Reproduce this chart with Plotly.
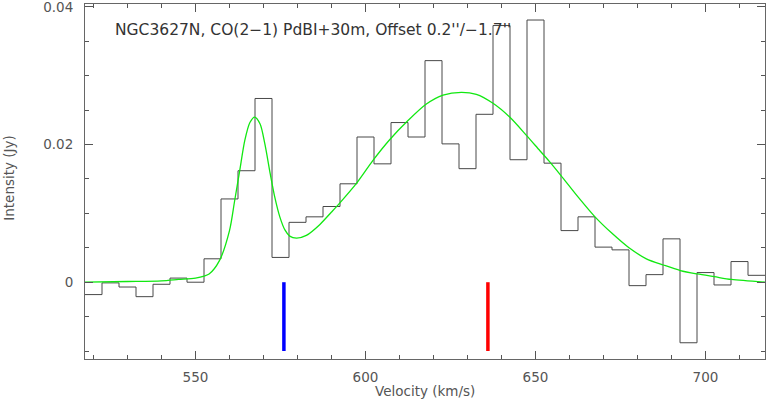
import plotly.graph_objects as go

# Spectrum (channel centres, km/s) and intensities (Jy)
velocity = [520, 525, 530, 535, 540, 545, 550, 555, 560, 565,
            570, 575, 580, 585, 590, 595, 600, 605, 610, 615,
            620, 625, 630, 635, 640, 645, 650, 655, 660, 665,
            670, 675, 680, 685, 690, 695, 700, 705, 710, 715]
intensity = [-0.0018, -0.0001, -0.0007, -0.0021, -0.0003, 0.0006, 0.0000, 0.0034, 0.0121, 0.0162,
             0.0267, 0.0036, 0.0087, 0.0095, 0.0110, 0.0143, 0.0211, 0.0172, 0.0232, 0.0211,
             0.0322, 0.0201, 0.0165, 0.0244, 0.0373, 0.0178, 0.0381, 0.0173, 0.0075, 0.0095,
             0.0051, 0.0047, -0.0005, 0.0011, 0.0063, -0.0088, 0.0014, -0.0004, 0.0030, 0.0010]
channel_width = 5

# Fitted profile
fit_velocity = [517.5, 530, 540, 545, 550, 554, 557, 560, 561.5, 563,
                564.5, 566, 567.4, 569, 570.4, 572, 573.3, 574.8, 576.3, 577.7,
                579.7, 582.6, 586.6, 590, 592.4, 597.4, 602.2, 607.1, 612.5, 617.9,
                622.8, 628.2, 632.6, 637.5, 642.4, 647.4, 651.3, 654, 657.5, 662.5,
                667.5, 672.5, 677.5, 682.6, 687.6, 692.6, 697.6, 702.6, 707.6, 717.5]
fit_intensity = [0.0000, 0.0001, 0.0002, 0.0004, 0.0006, 0.0012, 0.0031, 0.0075, 0.0118, 0.0162,
                 0.0206, 0.0232, 0.0240, 0.0230, 0.0201, 0.0157, 0.0124, 0.0095, 0.0076, 0.0067,
                 0.0064, 0.0068, 0.0084, 0.0102, 0.0115, 0.0144, 0.0177, 0.0207, 0.0235, 0.0259,
                 0.0272, 0.0276, 0.0273, 0.0260, 0.0240, 0.0213, 0.0191, 0.0176, 0.0155, 0.0124,
                 0.0095, 0.0071, 0.0050, 0.0034, 0.0025, 0.0017, 0.0012, 0.0008, 0.0004, 0.0000]

# Velocity markers
marker_velocity = [576, 636]
marker_colors = ["#0000ff", "#ff0000"]
marker_bottom = -0.01
marker_top = 0.0

title_text = "NGC3627N, CO(2\u22121) PdBI+30m, Offset 0.2''/\u22121.7''"
x_ticks = [550, 600, 650, 700]
y_ticks = [0, 0.02, 0.04]
y_ticktext = ["0", "0.02", "0.04"]

# histogram edges derived from channel centres
edges = [v - channel_width / 2 for v in velocity] + [velocity[-1] + channel_width / 2]
step_y = intensity + [intensity[-1]]

FONT = "DejaVu Sans"
fig = go.Figure()
fig.add_trace(go.Scatter(x=edges, y=step_y, mode="lines", line_shape="hv",
                         line=dict(color="#484848", width=1), hoverinfo="skip"))
fig.add_trace(go.Scatter(x=fit_velocity, y=fit_intensity, mode="lines", line_shape="spline",
                         line=dict(color="#11e811", width=1.3, smoothing=0.8), hoverinfo="skip"))
for v, c in zip(marker_velocity, marker_colors):
    fig.add_trace(go.Scatter(x=[v, v], y=[marker_top, marker_bottom], mode="lines",
                             line=dict(color=c, width=3.5), hoverinfo="skip"))

axis_common = dict(showline=True, linecolor="#666666", linewidth=1, mirror="allticks",
                   ticks="inside", ticklen=8, tickcolor="#555555", tickwidth=1,
                   showgrid=False, zeroline=False, automargin=False,
                   ticklabeloverflow="allow",
                   tickfont=dict(family=FONT, size=13.5, color="#555555"))

fig.update_layout(
    width=766, height=402,
    margin=dict(l=85, r=1, t=4, b=43),
    paper_bgcolor="white", plot_bgcolor="white",
    showlegend=False,
    xaxis=dict(range=[517.5, 717.5], tickvals=x_ticks, ticklabelstandoff=6,
               minor=dict(dtick=10, tick0=510, ticks="inside", ticklen=4, tickcolor="#555555"),
               **axis_common),
    yaxis=dict(range=[-0.01116, 0.04043], tickvals=y_ticks, ticktext=y_ticktext,
               ticklabelstandoff=8,
               minor=dict(dtick=0.005, tick0=0, ticks="inside", ticklen=4, tickcolor="#555555"),
               **axis_common),
    annotations=[
        dict(text=title_text, xref="paper", yref="paper", x=0.0412, y=0.935,
             yshift=-3, xanchor="left", yanchor="middle", showarrow=False,
             font=dict(family=FONT, size=15.5, color="#333333")),
        dict(text="Velocity (km/s)", xref="paper", yref="paper", x=0.5, y=0,
             yshift=-32, xanchor="center", yanchor="middle", showarrow=False,
             font=dict(family=FONT, size=13.5, color="#555555")),
        dict(text="Intensity (Jy)", xref="paper", yref="paper", x=-0.113, y=0.511,
             xanchor="center", yanchor="middle", textangle=-90, showarrow=False,
             font=dict(family=FONT, size=13.5, color="#555555")),
    ],
)

fig.write_html(
    "out.html",
    config={"displayModeBar": False},
    post_script="document.body.style.margin='0';document.body.style.overflow='hidden';",
)
